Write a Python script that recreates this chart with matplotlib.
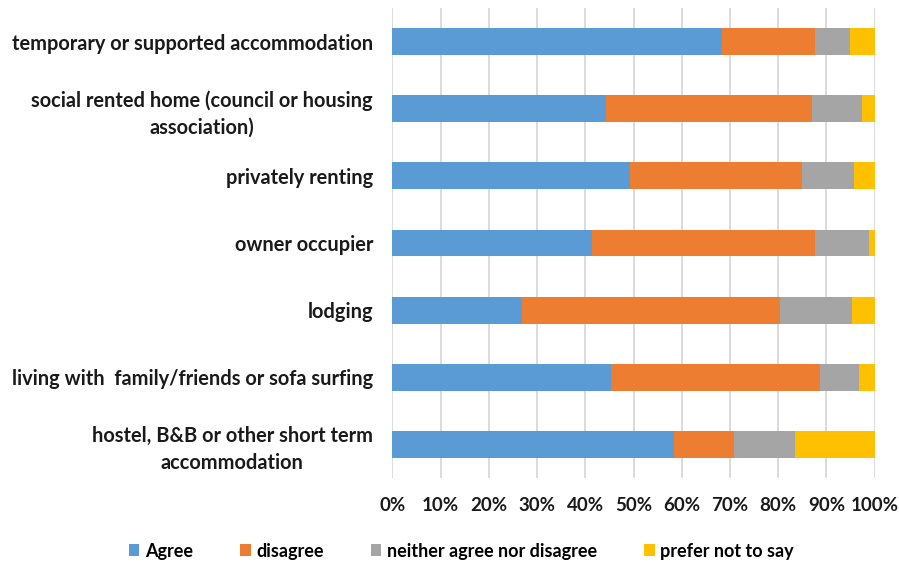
import matplotlib.pyplot as plt
import numpy as np

# housing situation, top row first
categories = ["temporary or supported accommodation",
              "social rented home (council or housing\nassociation)",
              "privately renting",
              "owner occupier",
              "lodging",
              "living with  family/friends or sofa surfing",
              "hostel, B&B or other short term\naccommodation"]

agree = [68.3, 44.2, 49.3, 41.3, 26.8, 45.3, 58.3]
disagree = [19.3, 42.9, 35.6, 46.3, 53.6, 43.3, 12.5]
neither = [7.3, 10.3, 10.7, 11.3, 14.8, 8.1, 12.6]
prefer_not = [5.1, 2.6, 4.4, 1.1, 4.8, 3.3, 16.6]

series_names = ["Agree", "disagree", "neither agree nor disagree", "prefer not to say"]
colors = ["#5B9BD5", "#ED7D31", "#A5A5A5", "#FFC000"]

plt.rcParams['font.family'] = ['Lato', 'DejaVu Sans']

fig = plt.figure(figsize=(8.99, 5.64), dpi=100)
ax = fig.add_axes([0.4364, 0.1525, 0.5366, 0.8333])

y = np.arange(len(categories))
left = np.zeros(len(categories))
for vals, name, col in zip([agree, disagree, neither, prefer_not], series_names, colors):
    vals = np.array(vals)
    ax.barh(y, vals, left=left, height=0.4, color=col, label=name, zorder=3)
    left = left + vals

ax.set_ylim(len(categories) - 0.5, -0.5)
ax.set_xlim(0, 100)
ax.set_xticks(np.arange(0, 101, 10))
ax.set_xticklabels([str(v) + "%" for v in range(0, 101, 10)], fontsize=13.5,
                   fontweight='bold', color="#1a1a1a")
ax.set_yticks(y)
ax.set_yticklabels(categories, fontsize=14.4, fontweight='bold', color="#1a1a1a",
                   multialignment='center', linespacing=1.4)
ax.tick_params(axis='both', length=0)
ax.tick_params(axis='y', pad=14)
ax.tick_params(axis='x', pad=14)
ax.grid(axis='x', color="#d9d9d9", linewidth=1.3, zorder=0)
for s in ax.spines.values():
    s.set_visible(False)

fig.legend(loc='lower center', bbox_to_anchor=(0.513, -0.021), ncol=4, frameon=False,
           handlelength=0.6, handleheight=0.6, handletextpad=0.3,
           columnspacing=2.6, prop={'weight': 'bold', 'size': 13})

fig.savefig("out.png", dpi=100)
